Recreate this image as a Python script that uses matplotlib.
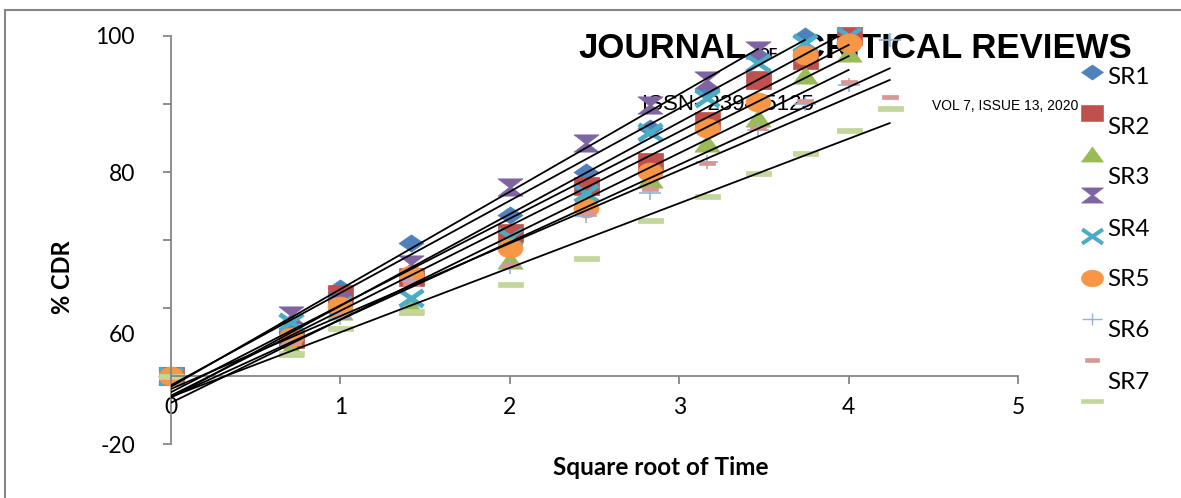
import numpy as np
import matplotlib
matplotlib.use("Agg")
import matplotlib.pyplot as plt
from matplotlib.path import Path
from matplotlib.lines import Line2D
from matplotlib.patches import Rectangle

# square root of time (hours)
hours = [0, 0.5, 1, 2, 4, 6, 8, 10, 12, 14, 16, 18]
sqrt_t = np.sqrt(hours)

# % CDR for each formulation
sr1 = [0, 13, 26, 39, 47.4, 60, 73, 84, 94, 100]
sr2 = [0, 11, 24, 29, 42, 56, 63, 75, 87, 93, 100]
sr3 = [0, 8.2, 19, 20.6, 34, 51.8, 58, 68.5, 76, 88.5, 95]
sr4 = [0, 18, 22, 33, 55.6, 68.5, 79.7, 87, 96]
sr5 = [0, 16, 21, 23, 41, 53.8, 71.8, 81.8, 92, 98, 100]
sr6 = [0, 11.5, 20.6, 29.7, 37.6, 49.4, 60, 73, 80.6, 94.4, 98]
sr7 = [0, 9, 17, 28, 32, 47, 53.8, 63, 72.4, 80, 85.6, 98.8]
sr8 = [0, 10, 18, 27, 32.6, 48, 55, 62.6, 73, 81, 86.5, 82]
sr9 = [0, 6.8, 14, 19, 27, 34.7, 46, 53, 59.7, 65.6, 72.4, 78.8]
series = [sr1, sr2, sr3, sr4, sr5, sr6, sr7, sr8, sr9]

legend_labels = ["SR1", "SR2", "SR3", "SR4", "SR5", "SR6", "SR7"]
x_ticks = [0, 1, 2, 3, 4, 5]
y_ticks = [-20, 0, 20, 40, 60, 80, 100]
y_tick_text = ["-20", "", "", "", "80", "", "100"]

colors = ["#4F81BD", "#C0504D", "#9BBB59", "#8064A2", "#4BACC6",
          "#F79646", "#95B3D7", "#D99694", "#C3D69B"]

# excel-like marker shapes, a bit wider than tall
a = 1.45
diamond = Path([(0, 1), (a, 0), (0, -1), (-a, 0), (0, 1)], closed=True)
square = Path([(-a, -1.1), (a, -1.1), (a, 1.1), (-a, 1.1), (-a, -1.1)], closed=True)
triangle = Path([(-a, -1), (a, -1), (0, 1), (-a, -1)], closed=True)
hourglass = Path([(-a, 1), (a, 1), (0.15, 0), (a, -1), (-a, -1), (-0.15, 0), (-a, 1)], closed=True)
xstar = Path([(-a, 1), (a, -1), (-a, -1), (a, 1)],
             [Path.MOVETO, Path.LINETO, Path.MOVETO, Path.LINETO])
uc = Path.unit_circle()
ellipse = Path(uc.vertices * [a, 1.1], uc.codes)
plus = Path([(-1.7, 0), (1.7, 0), (0, -1), (0, 1)],
            [Path.MOVETO, Path.LINETO, Path.MOVETO, Path.LINETO])
dash_s = Path([(-1, -0.32), (1, -0.32), (1, 0.32), (-1, 0.32), (-1, -0.32)], closed=True)
dash_l = Path([(-1, -0.2), (1, -0.2), (1, 0.2), (-1, 0.2), (-1, -0.2)], closed=True)
markers = [diamond, square, triangle, hourglass, xstar, ellipse, plus, dash_s, dash_l]
msizes = [18, 18, 18, 18, 17, 18, 16, 11, 18]
medge = [0.5, 0.5, 0.5, 0.5, 3.4, 0.5, 1.2, 0.5, 0.5]

plt.rcParams["font.family"] = ["Lato", "DejaVu Sans"]

fig = plt.figure(figsize=(11.81, 4.98), dpi=100)
ax = fig.add_axes([171 / 1181, 54 / 498, 847 / 1181, 408 / 498])
ax.patch.set_facecolor("none")

for i, ys in enumerate(series):
    xs = sqrt_t[:len(ys)]
    ax.plot(xs, ys, linestyle="none", marker=markers[i], markersize=msizes[i],
            color=colors[i], markerfacecolor=colors[i], markeredgecolor=colors[i],
            markeredgewidth=medge[i], clip_on=False, zorder=2 + i * 0.01)

# linear trendline for each series
for ys in series:
    xs = sqrt_t[:len(ys)]
    k, b = np.polyfit(xs, ys, 1)
    ax.plot([0, xs[-1]], [b, k * xs[-1] + b], color="black", lw=1.3, zorder=3)

ax.set_xlim(0, 5)
ax.set_ylim(-20, 100)
ax.spines["top"].set_visible(False)
ax.spines["right"].set_visible(False)
ax.spines["bottom"].set_position(("data", 0))
for s in ["left", "bottom"]:
    ax.spines[s].set_color("#868686")
    ax.spines[s].set_linewidth(1.3)
ax.set_xticks(x_ticks)
ax.set_yticks(y_ticks, y_tick_text)
ax.set_yticks([12.6], ["60"], minor=True)
ax.tick_params(axis="both", which="major", direction="out", length=6,
               width=1.3, color="#868686", labelsize=16.5)
ax.tick_params(axis="x", pad=9)
ax.tick_params(axis="y", which="major", pad=20)
ax.tick_params(axis="y", which="minor", length=0, pad=26, labelsize=16.5)

fig.text(62 / 1181, 1 - 277 / 498, "% CDR", rotation=90, fontsize=17,
         fontweight="bold", ha="center", va="center")
fig.text(661 / 1181, 1 - 467 / 498, "Square root of Time", fontsize=17.5,
         fontweight="bold", ha="center", va="center")

# journal header printed across the page
hdr = dict(family=["Liberation Sans", "DejaVu Sans"], fontweight="bold",
           va="baseline", zorder=-1)
fig.text(578 / 1181, 1 - 58 / 498, "JOURNAL", fontsize=25, **hdr)
fig.text(758 / 1181, 1 - 58 / 498, "OF", fontsize=10, **hdr)
fig.text(800 / 1181, 1 - 58 / 498, "CRITICAL REVIEWS", fontsize=25, **hdr)
fig.text(642 / 1181, 1 - 110 / 498, "ISSN- 2394-5125", fontsize=16,
         family=["Liberation Sans", "DejaVu Sans"], va="baseline", zorder=-1)
fig.text(932 / 1181, 1 - 110 / 498, "VOL 7, ISSUE 13, 2020", fontsize=10,
         family=["Liberation Sans", "DejaVu Sans"], va="baseline", zorder=-1)

# legend entries
leg_marker_y = [72, 113, 154, 195, 236, 278, 319, 360, 401]
leg_label_y = [77, 127, 178, 230, 280, 330, 382]
for i, yy in enumerate(leg_marker_y):
    fig.add_artist(Line2D([1092 / 1181], [1 - yy / 498], linestyle="none",
                          marker=markers[i], markersize=msizes[i] * 0.88,
                          color=colors[i], markeredgecolor=colors[i],
                          markeredgewidth=medge[i] * 0.85))
for lab, yy in zip(legend_labels, leg_label_y):
    fig.text(1107 / 1181, 1 - yy / 498, lab, fontsize=17.5, va="center")

# chart frame
fig.add_artist(Rectangle((5 / 1181, -0.1), 1.2, 0.1 + 1 - 10 / 498,
                         transform=fig.transFigure, fill=False,
                         edgecolor="#868686", lw=1.5))

fig.savefig("out.png", dpi=100)
